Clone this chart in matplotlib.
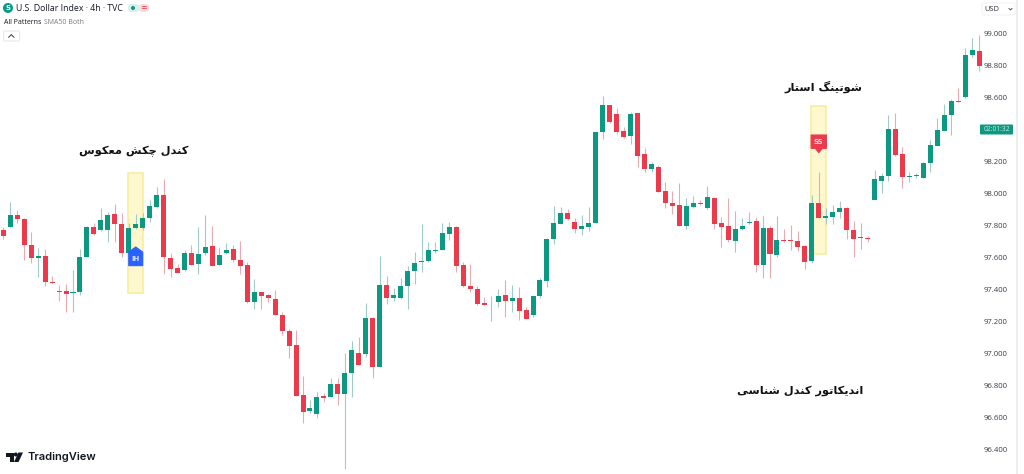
import matplotlib
matplotlib.use("Agg")
import matplotlib.pyplot as plt
from matplotlib.patches import Polygon, Rectangle, Circle, FancyBboxPatch

# U.S. Dollar Index, 4h candles
opens = [97.769,97.788,97.865,97.840,97.677,97.596,97.604,97.444,97.388,97.390,97.375,97.384,97.600,97.786,97.767,97.771,97.869,97.807,97.627,97.779,
         97.784,97.844,97.913,97.990,97.596,97.534,97.519,97.625,97.559,97.623,97.667,97.550,97.627,97.648,97.579,97.550,97.321,97.379,97.360,97.337,
         97.239,97.137,97.048,96.737,96.637,96.616,96.729,96.727,96.804,96.744,96.877,96.998,96.991,97.221,96.912,97.425,97.346,97.341,97.416,97.512,
         97.566,97.573,97.639,97.646,97.744,97.789,97.548,97.421,97.400,97.312,97.316,97.321,97.363,97.327,97.342,97.267,97.238,97.356,97.450,97.711,
         97.807,97.875,97.819,97.773,97.790,97.813,98.379,98.548,98.496,98.390,98.359,98.498,98.244,98.150,98.165,98.011,97.940,97.927,97.796,97.913,
         97.936,97.904,97.969,97.811,97.794,97.702,97.773,97.815,97.823,97.552,97.779,97.615,97.706,97.709,97.702,97.671,97.573,97.938,97.846,97.850,
         97.881,97.909,97.769,97.721,97.719,97.956,98.077,98.106,98.400,98.244,98.098,98.104,98.094,98.190,98.296,98.390,98.488,98.575,98.602,98.861,98.890]
highs = [97.790,97.942,97.894,97.842,97.759,97.654,97.648,97.484,97.425,97.431,97.519,97.648,97.794,97.811,97.907,97.879,97.932,97.877,97.815,97.869,
         97.873,97.957,98.036,98.086,97.627,97.557,97.644,97.675,97.786,97.863,97.794,97.665,97.690,97.675,97.702,97.571,97.463,97.383,97.366,97.394,
         97.254,97.148,97.144,96.856,96.706,96.754,96.752,96.846,96.841,97.002,97.075,97.098,97.314,97.223,97.606,97.481,97.406,97.466,97.546,97.629,
         97.806,97.694,97.691,97.814,97.821,97.794,97.571,97.556,97.419,97.352,97.356,97.398,97.456,97.425,97.415,97.290,97.363,97.467,97.717,97.919,
         97.911,97.900,97.842,97.861,97.911,98.388,98.606,98.551,98.529,98.411,98.509,98.500,98.279,98.196,98.175,98.071,98.015,98.061,97.971,97.981,
         97.956,98.046,97.977,97.848,97.967,97.888,97.842,97.884,97.848,97.859,97.796,97.856,97.773,97.800,97.765,97.673,97.988,98.129,97.904,97.925,
         97.952,97.911,97.827,97.815,97.734,98.144,98.123,98.488,98.498,98.286,98.134,98.127,98.192,98.331,98.467,98.556,98.586,98.659,98.904,98.967,98.988]
lows = [97.715,97.786,97.811,97.582,97.565,97.473,97.421,97.436,97.323,97.259,97.254,97.363,97.598,97.740,97.765,97.694,97.696,97.602,97.613,97.777,
        97.769,97.821,97.904,97.494,97.477,97.498,97.515,97.550,97.494,97.613,97.544,97.548,97.619,97.571,97.494,97.311,97.275,97.273,97.321,97.237,
        97.112,96.966,96.731,96.560,96.627,96.596,96.696,96.723,96.675,96.273,96.723,96.923,96.973,96.841,96.910,97.306,97.327,97.337,97.273,97.431,
        97.508,97.571,97.627,97.644,97.706,97.508,97.410,97.379,97.302,97.298,97.202,97.290,97.227,97.259,97.206,97.211,97.227,97.342,97.415,97.679,
        97.804,97.832,97.752,97.738,97.765,97.811,98.338,98.436,98.369,98.346,98.306,98.165,98.134,98.129,98.004,97.904,97.867,97.795,97.775,97.904,
        97.925,97.900,97.773,97.665,97.692,97.634,97.769,97.806,97.509,97.467,97.467,97.598,97.696,97.644,97.640,97.525,97.561,97.842,97.806,97.806,
        97.842,97.711,97.602,97.648,97.692,97.954,98.002,98.077,98.231,98.034,98.069,98.092,98.092,98.134,98.294,98.388,98.363,98.567,98.596,98.848,98.765]
closes = [97.734,97.865,97.836,97.675,97.592,97.604,97.446,97.438,97.384,97.371,97.384,97.600,97.788,97.744,97.832,97.865,97.807,97.623,97.779,97.804,
          97.846,97.917,97.990,97.600,97.527,97.500,97.625,97.552,97.621,97.663,97.546,97.615,97.642,97.582,97.546,97.321,97.384,97.356,97.341,97.239,
          97.135,97.044,96.733,96.633,96.656,96.727,96.716,96.806,96.741,96.875,97.019,96.925,97.219,96.912,97.425,97.346,97.362,97.419,97.512,97.560,
          97.577,97.641,97.646,97.748,97.787,97.546,97.419,97.398,97.304,97.300,97.321,97.356,97.325,97.342,97.263,97.213,97.359,97.454,97.715,97.815,
          97.873,97.836,97.773,97.794,97.811,98.384,98.550,98.446,98.384,98.350,98.496,98.231,98.148,98.184,98.006,97.940,97.921,97.796,97.921,97.938,
          97.931,97.973,97.804,97.790,97.704,97.773,97.794,97.819,97.552,97.779,97.617,97.706,97.700,97.702,97.663,97.571,97.938,97.844,97.856,97.881,
          97.906,97.769,97.713,97.725,97.711,98.088,98.109,98.398,98.238,98.100,98.104,98.115,98.190,98.298,98.392,98.488,98.575,98.569,98.861,98.894,98.796]

price_ticks = [99.0,98.8,98.6,98.2,98.0,97.8,97.6,97.4,97.2,97.0,96.8,96.6,96.4]

UP = "#0b9a81"
DOWN = "#ec3a4d"
UP_WICK = "#9fcdc5"
DOWN_WICK = "#eda9b0"


# matplotlib does not join or reorder Arabic letters, so it is done here
FORMS = {
    "ا": (0xFE8D, 0xFE8E), "د": (0xFEA9, 0xFEAA), "ر": (0xFEAD, 0xFEAE), "و": (0xFEED, 0xFEEE),
    "ن": (0xFEE5, 0xFEE6, 0xFEE7, 0xFEE8), "ل": (0xFEDD, 0xFEDE, 0xFEDF, 0xFEE0),
    "ش": (0xFEB5, 0xFEB6, 0xFEB7, 0xFEB8), "س": (0xFEB1, 0xFEB2, 0xFEB3, 0xFEB4),
    "م": (0xFEE1, 0xFEE2, 0xFEE3, 0xFEE4), "ع": (0xFEC9, 0xFECA, 0xFECB, 0xFECC),
    "ت": (0xFE95, 0xFE96, 0xFE97, 0xFE98), "چ": (0xFB7A, 0xFB7B, 0xFB7C, 0xFB7D),
    "ک": (0xFB8E, 0xFB8F, 0xFB90, 0xFB91), "گ": (0xFB92, 0xFB93, 0xFB94, 0xFB95),
    "ی": (0xFBFC, 0xFBFD, 0xFBFE, 0xFBFF),
}

def shape(txt):
    res = []
    for i, c in enumerate(txt):
        if c not in FORMS:
            res.append(c)
            continue
        f = FORMS[c]
        prev = txt[i-1] if i > 0 else " "
        nxt = txt[i+1] if i < len(txt)-1 else " "
        from_prev = prev in FORMS and len(FORMS[prev]) == 4
        to_next = len(f) == 4 and nxt in FORMS
        if from_prev and to_next:
            res.append(chr(f[3]))
        elif to_next:
            res.append(chr(f[2]))
        elif from_prev:
            res.append(chr(f[1]))
        else:
            res.append(chr(f[0]))
    return "".join(res[::-1])


W, H = 1024, 474
fig = plt.figure(figsize=(W/100, H/100), dpi=100)
ax = fig.add_axes([0, 0, 1017/W, 1])
ax.set_xlim(-3.3/6.97, (1017-3.3)/6.97)
ax.set_ylim(99-(H-33)/160, 99+33/160)
for s in ["top", "left", "bottom"]:
    ax.spines[s].set_visible(False)
ax.spines["right"].set_color("#eeeeee")
ax.spines["right"].set_linewidth(1.4)
ax.set_xticks([])
ax.yaxis.tick_right()
ax.set_yticks(price_ticks)
ax.set_yticklabels(["%.3f" % p for p in price_ticks], fontsize=5.6, color="#3a3e4a", family="Open Sans")
ax.tick_params(axis="y", length=0, pad=-23.8)

# yellow highlight boxes
ax.add_patch(Rectangle((19-1.08, 97.377), 2.16, 0.746, fc="#fff8cf", ec="#f6ec98", lw=1.1, zorder=1))
ax.add_patch(Rectangle((117-1.08, 97.617), 2.16, 0.927, fc="#fff8cf", ec="#f6ec98", lw=1.1, zorder=1))

# candles
for i in range(len(opens)):
    up = closes[i] >= opens[i]
    ax.vlines(i, lows[i], highs[i], color=UP_WICK if up else DOWN_WICK, lw=0.8, zorder=2)
    ax.bar(i, abs(closes[i]-opens[i]), bottom=min(opens[i], closes[i]), width=0.72,
           color=UP if up else DOWN, lw=0, zorder=3)

# pattern markers
ax.add_patch(Polygon([(18.0, 97.546), (18.0, 97.631), (19, 97.6625), (20.0, 97.631), (20.0, 97.546)], fc="#2962ff", ec="#2962ff", lw=0.8, zorder=4))
ax.text(19, 97.59, "IH", color="#d5e0ff", fontsize=5, fontweight="bold", ha="center", va="center", zorder=5)
ax.add_patch(Polygon([(115.9, 98.3625), (118.1, 98.3625), (118.1, 98.279), (117.5, 98.279), (117, 98.252), (116.5, 98.279), (115.9, 98.279)], fc=DOWN, ec=DOWN, lw=0.8, zorder=4))
ax.text(117, 98.32, "SS", color="#ffd5d9", fontsize=5, fontweight="bold", ha="center", va="center", zorder=5)

# persian captions
for txt, x, y in [("کندل چکش معکوس", 188, 151), ("شوتینگ استار", 863, 87), ("اندیکاتور کندل شناسی", 863, 391)]:
    fig.text(x/W, 1-y/H, shape(txt), family="DejaVu Sans", fontweight="bold", fontsize=8.2, color="#111111", ha="right", va="center")

# header
ov = fig.add_axes([0, 0, 1, 1])
ov.set_xlim(0, W)
ov.set_ylim(H, 0)
ov.axis("off")
ov.patch.set_alpha(0)
ov.add_patch(Circle((8, 8), 5, fc=UP, ec="none"))
ov.text(8, 8, "S", color="white", fontsize=5, fontweight="bold", ha="center", va="center")
ov.text(16, 8.3, "U.S. Dollar Index · 4h · TVC", fontsize=6.3, color="#131722", family="Open Sans", va="center")
ov.add_patch(FancyBboxPatch((128, 4), 11, 8, boxstyle="round,pad=0,rounding_size=3", fc="#d8f0ec", ec="none"))
ov.add_patch(Circle((133, 8), 2, fc=UP, ec="none"))
ov.add_patch(FancyBboxPatch((139, 4), 10, 8, boxstyle="round,pad=0,rounding_size=3", fc="#fbdde0", ec="none"))
ov.text(143.5, 8, "=", color=DOWN, fontsize=6, ha="center", va="center")
ov.text(4, 22, "All Patterns", fontsize=5.0, color="#131722", family="Open Sans", va="center")
ov.text(43.5, 22, "SMA50 Both", fontsize=5.0, color="#787b86", family="Open Sans", va="center")
ov.add_patch(FancyBboxPatch((3.5, 31), 16, 10, boxstyle="round,pad=0,rounding_size=1", fc="white", ec="#e6e6e6", lw=0.7))
ov.plot([8.7, 11.3, 13.9], [37.2, 34.6, 37.2], color="#333333", lw=0.7)
ov.add_patch(FancyBboxPatch((982, 3), 33, 12, boxstyle="round,pad=0,rounding_size=1", fc="white", ec="#f2f2f2", lw=0.7))
ov.text(984, 9, "USD", fontsize=5.4, color="#2a2e39", family="Open Sans", va="center")
ov.plot([1009, 1010.5, 1012], [8.5, 10, 8.5], color="#555555", lw=0.7)

# countdown label
ov.add_patch(FancyBboxPatch((980, 124.5), 33, 10, boxstyle="round,pad=0,rounding_size=1", fc=UP, ec="none"))
ov.text(997, 129.6, "02:01:32", fontsize=4.8, color="#cfe9e4", family="Open Sans", ha="center", va="center")

# tradingview logo
ov.add_patch(Polygon([(5.5, 452.5), (13.5, 452.5), (13.5, 462), (9.5, 462), (9.5, 456.5), (5.5, 456.5)], fc="#131722", ec="none"))
ov.add_patch(Circle((15.8, 454.5), 2, fc="#131722", ec="none"))
ov.add_patch(Polygon([(18.5, 452.5), (23, 452.5), (18.5, 462), (14, 462)], fc="#131722", ec="none"))
ov.text(27, 457.5, "TradingView", fontsize=8.0, fontweight="semibold", color="#131722", family="Inter", va="center")

fig.savefig("out.png", dpi=100)
